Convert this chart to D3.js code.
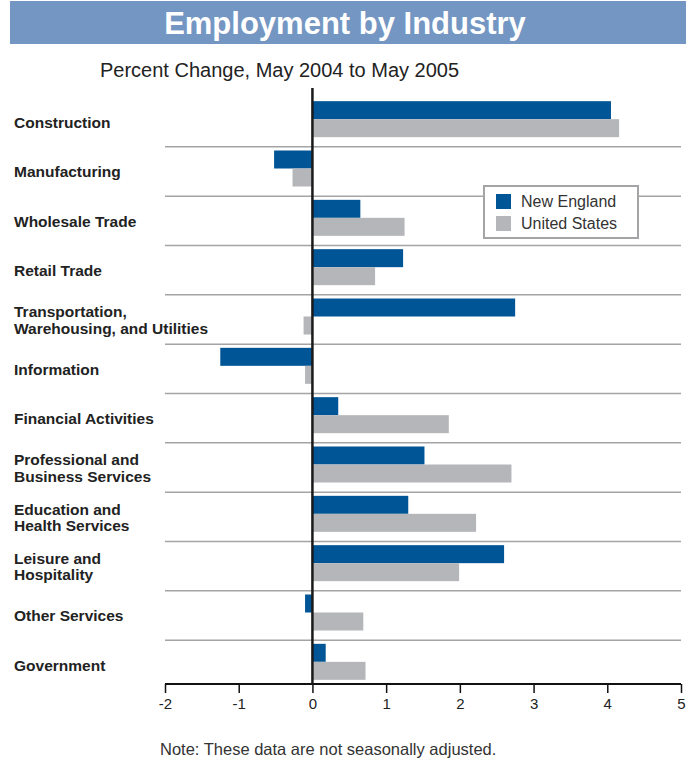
<!DOCTYPE html>
<html>
<head>
<meta charset="utf-8">
<script src="https://cdn.jsdelivr.net/npm/d3@7"></script>
<style>
  body { margin: 0; background: #fff; }
  svg { font-family: "Liberation Sans", Arial, sans-serif; }
</style>
</head>
<body>
<div id="chart"></div>
<script>
// categories and values (percent change, May 2004 to May 2005)
var industries = [
  ["Construction"],
  ["Manufacturing"],
  ["Wholesale Trade"],
  ["Retail Trade"],
  ["Transportation,", "Warehousing, and Utilities"],
  ["Information"],
  ["Financial Activities"],
  ["Professional and", "Business Services"],
  ["Education and", "Health Services"],
  ["Leisure and", "Hospitality"],
  ["Other Services"],
  ["Government"]
];
var newEngland = [4.05, -0.52, 0.65, 1.23, 2.75, -1.25, 0.35, 1.52, 1.30, 2.60, -0.10, 0.18];
var unitedStates = [4.16, -0.27, 1.25, 0.85, -0.12, -0.10, 1.85, 2.70, 2.22, 1.99, 0.69, 0.72];
var seriesNames = ["New England", "United States"];
var xTicks = [-2, -1, 0, 1, 2, 3, 4, 5];

var width = 686, height = 761;
var colors = ["#005596", "#b5b6b9"];

var svg = d3.select("#chart").append("svg")
  .attr("width", width)
  .attr("height", height);

// title band
svg.append("rect")
  .attr("x", 10).attr("y", 1)
  .attr("width", 676).attr("height", 43)
  .attr("fill", "#7396c3");
svg.append("text")
  .attr("x", 345).attr("y", 34)
  .attr("text-anchor", "middle")
  .attr("fill", "#fff")
  .style("font-size", "31px")
  .style("font-weight", "bold")
  .text("Employment by Industry");

svg.append("text")
  .attr("x", 100).attr("y", 77)
  .attr("fill", "#222")
  .style("font-size", "20px")
  .text("Percent Change, May 2004 to May 2005");

// scales
var x = d3.scaleLinear().domain([-2, 5]).range([165, 681]);
var idx = d3.range(industries.length);
var y = d3.scaleBand().domain(idx).range([94.5, 686.5]);
var sub = d3.scaleBand().domain([0, 1]).range([y.bandwidth() / 2 - 18, y.bandwidth() / 2 + 18]);

// separator lines between categories
svg.append("g").selectAll("line")
  .data(idx.slice(1))
  .enter().append("line")
  .attr("x1", 165).attr("x2", 681)
  .attr("y1", function(d) { return y(d) + 3; })
  .attr("y2", function(d) { return y(d) + 3; })
  .attr("stroke", "#a4a4a6")
  .attr("stroke-width", 1.5);

// bars
var rows = svg.append("g").selectAll("g")
  .data(idx)
  .enter().append("g")
  .attr("transform", function(i) { return "translate(0," + y(i) + ")"; });

[newEngland, unitedStates].forEach(function(series, s) {
  rows.append("rect")
    .attr("x", function(i) { return x(Math.min(0, series[i])); })
    .attr("y", sub(s))
    .attr("width", function(i) { return Math.abs(x(series[i]) - x(0)); })
    .attr("height", sub.bandwidth())
    .attr("fill", colors[s]);
});

// category labels
rows.append("text")
  .attr("x", 14)
  .attr("fill", "#222")
  .style("font-size", "15.5px")
  .style("font-weight", "bold")
  .each(function(i) {
    var lines = industries[i];
    var t = d3.select(this);
    var c = y.bandwidth() / 2 + 9;
    lines.forEach(function(l, k) {
      t.append("tspan")
        .attr("x", 14)
        .attr("y", c + (k - (lines.length - 1) / 2) * 16.5)
        .text(l);
    });
  });

// x axis
var axis = svg.append("g")
  .attr("transform", "translate(0,684)")
  .call(d3.axisBottom(x).tickValues(xTicks).tickSize(9).tickPadding(5)
    .tickFormat(function(d) { return String(d); }));
axis.select(".domain").attr("stroke", "#111").attr("stroke-width", 2).attr("d", "M165,0H681");
axis.selectAll(".tick line").attr("stroke", "#111").attr("stroke-width", 1.5);
axis.selectAll(".tick text")
  .attr("fill", "#222")
  .style("font-size", "15px")
  .style("font-family", "'Liberation Sans', Arial, sans-serif");

// zero line
svg.append("line")
  .attr("x1", x(0)).attr("x2", x(0))
  .attr("y1", 88).attr("y2", 684)
  .attr("stroke", "#1a1a1a")
  .attr("stroke-width", 2.5);

// legend
var lg = svg.append("g").attr("transform", "translate(484,186)");
lg.append("rect")
  .attr("width", 154).attr("height", 52)
  .attr("fill", "#fff")
  .attr("stroke", "#a4a4a6")
  .attr("stroke-width", 2);
seriesNames.forEach(function(name, s) {
  lg.append("rect")
    .attr("x", 12).attr("y", 8 + s * 22)
    .attr("width", 15).attr("height", 15)
    .attr("fill", colors[s]);
  lg.append("text")
    .attr("x", 37).attr("y", 21 + s * 22)
    .attr("fill", "#333")
    .style("font-size", "16px")
    .text(name);
});

svg.append("text")
  .attr("x", 160).attr("y", 755)
  .attr("fill", "#333")
  .style("font-size", "16.5px")
  .text("Note:  These data are not seasonally adjusted.");
</script>
</body>
</html>
